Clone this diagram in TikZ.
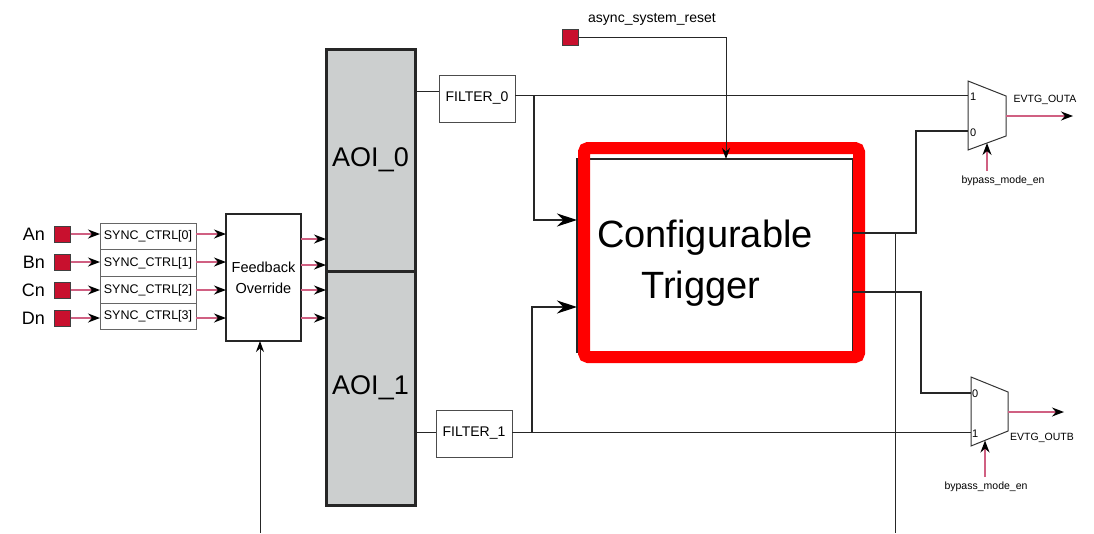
\documentclass[tikz,border=0pt]{standalone}
\usepackage{fontspec}
\setmainfont{Liberation Sans}
\usetikzlibrary{arrows.meta}
\definecolor{sqred}{RGB}{200,16,46}
\definecolor{pinkln}{RGB}{208,96,130}
\definecolor{aoigray}{RGB}{204,207,207}
\definecolor{hired}{RGB}{255,0,0}
\newcommand{\fsz}[1]{\fontsize{#1}{#1}\selectfont}
\begin{document}
\begin{tikzpicture}[x=1pt,y=-1pt,
  every node/.style={inner sep=0pt,outer sep=0pt},
  sqbox/.style={draw=black!75,fill=sqred,line width=0.8pt,minimum size=16pt},
  inlbl/.style={anchor=east,font=\fsz{18}},
  syncbox/.style={draw=black!60,line width=1pt,fill=white,minimum width=96pt,minimum height=26.75pt,font=\fsz{12.5}},
  fbbox/.style={draw=black!85,line width=1.8pt,minimum width=75pt,minimum height=127pt,align=center,font=\fontsize{14.5}{21}\selectfont},
  aoibox/.style={draw=black!85,line width=3pt,fill=aoigray,minimum width=89pt,font=\fsz{27}},
  filtbox/.style={draw=black!70,line width=1pt,minimum width=76pt,minimum height=47pt,font=\fsz{14}},
  confbox/.style={draw=black!85,line width=2.5pt,minimum width=276pt,minimum height=193pt},
  hilite/.style={draw=hired,line width=12pt,rounded corners=4pt},
  wire/.style={draw=black!85,line width=1pt},
  pinkarrow/.style={draw=pinkln,line width=1.4pt,-{Stealth[length=12pt,width=9pt,color=black]}},
  bigarrow/.style={wire,line width=1.2pt,-{Stealth[length=20pt,width=13pt,color=black]}},
  thinarrow/.style={wire,-{Stealth[length=11pt,width=8pt,color=black]}},
  muxshape/.style={draw=black!80,line width=1pt},
  smalllbl/.style={font=\fsz{10.5}},
  muxnum/.style={anchor=west,font=\fsz{11}}
]
\useasboundingbox (0,0) rectangle (1094,533);

% input pads and labels
\foreach \n/\y in {A/234,B/262,C/290,D/318}{
  \node[sqbox] (sq\n) at (62.5,\y) {};
  \node[inlbl] (lbl\n) at (45,\y) {\n n};
}
% sync boxes
\node[syncbox] (syncA) at (148,236.4) {SYNC\_CTRL[0]};
\node[syncbox] (syncB) at (148,263.1) {SYNC\_CTRL[1]};
\node[syncbox] (syncC) at (148,289.9) {SYNC\_CTRL[2]};
\node[syncbox] (syncD) at (148,316.6) {SYNC\_CTRL[3]};

% feedback override
\node[fbbox] (fb) at (263.5,277.5) {Feedback\\Override};

% AOI blocks
\node[aoibox,minimum height=222pt] (aoi0) at (370.5,160) {AOI\_0};
\node[aoibox,minimum height=234pt] (aoi1) at (370.5,388) {AOI\_1};

% pad -> sync -> feedback
\foreach \n in {A,B,C,D}{
  \draw[pinkarrow] (sq\n.east) -- (sq\n -| sync\n.west);
  \draw[pinkarrow] (sync\n.east |- sq\n) -- (fb.west |- sq\n);
}
% feedback -> AOI
\foreach \y in {239,265,290,318}{
  \draw[pinkarrow] (fb.east |- 0,\y) -- (aoi0.west |- 0,\y);
}
% feedback bottom input
\coordinate (fbin) at (260,533);
\draw[thinarrow] (fbin) -- (fbin |- fb.south);

% filters
\node[filtbox] (f0) at (477,98.5) {FILTER\_0};
\node[filtbox] (f1) at (474,433.5) {FILTER\_1};
\draw[wire] (aoi0.east |- 0,91) -- (f0.west |- 0,91);
\draw[wire] (aoi1.east |- 0,432) -- (f1.west |- 0,432);

% configurable trigger
\node[confbox] (conf) at (715,255.5) {};
\node[anchor=base,font=\fsz{38}] (conft1) at (705,247) {Configurable};
\node[anchor=base,font=\fsz{38}] (conft2) at (701,298) {Trigger};
\draw[hilite] (584,148) rectangle (859,357);

% async reset
\node[sqbox] (sqR) at (570.5,37.5) {};
\node[font=\fsz{14}] (rstlbl) at (652,19) {async\_system\_reset};
\coordinate (rstc) at (726,37.5);
\draw[thinarrow] (sqR.east) -- (rstc) -- (rstc |- conf.north);

% muxes
\coordinate (muxAi1) at (968,95);
\coordinate (muxAi0) at (968,131);
\coordinate (muxAo) at (1006,116);
\coordinate (muxBi0) at (971,393);
\coordinate (muxBi1) at (971,432);
\coordinate (muxBo) at (1008,412);
\draw[muxshape] (968,81) -- (1006,96) -- (1006,136) -- (968,150) -- cycle;
\draw[muxshape] (971,377) -- (1008,392) -- (1008,431) -- (971,446) -- cycle;
\node[muxnum] (nA1) at (970,97) {1};
\node[muxnum] (nA0) at (970,133) {0};
\node[muxnum] (nB0) at (972,394) {0};
\node[muxnum] (nB1) at (972,434) {1};

% filter outputs
\draw[wire] (f0.east |- 0,95) -- (muxAi1);
\draw[wire] (f1.east |- 0,432) -- (muxBi1);
\coordinate (br0) at (534,95);
\coordinate (br1) at (532,432);
\draw[bigarrow] (br0) -- (534,220) -- (conf.west |- 0,220);
\draw[bigarrow] (br1) -- (532,307) -- (conf.west |- 0,307);

% trigger outputs
\draw[wire,line width=1.3pt] (conf.east |- 0,233) -- (916,233) -- (916,131) -- (muxAi0);
\draw[wire,line width=1.3pt] (conf.east |- 0,292) -- (921,292) -- (921,393) -- (muxBi0);
\coordinate (vtap) at (895,233);
\draw[wire] (vtap) -- (895,533);

% outputs
\coordinate (outA) at (1073,116);
\coordinate (outB) at (1064,412);
\draw[pinkarrow] (muxAo) -- (outA);
\draw[pinkarrow] (muxBo) -- (outB);
\node[smalllbl] (evA) at (1045,100) {EVTG\_OUTA};
\node[smalllbl] (evB) at (1042,438) {EVTG\_OUTB};

% bypass
\node[smalllbl] (byA) at (1003,181) {bypass\_mode\_en};
\node[smalllbl] (byB) at (986,487) {bypass\_mode\_en};
\draw[pinkarrow] (987,171) -- (987,143);
\draw[pinkarrow] (985,477) -- (985,440.5);
\end{tikzpicture}
\end{document}
